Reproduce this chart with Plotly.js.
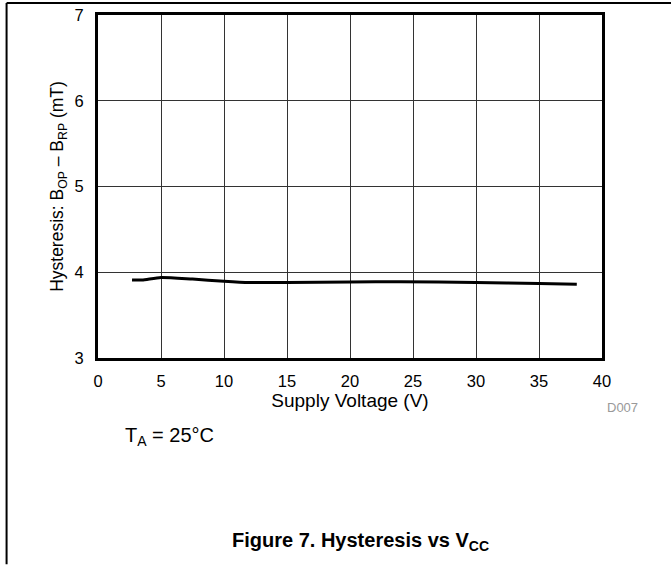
<!DOCTYPE html>
<html>
<head>
<meta charset="utf-8">
<script src="https://cdn.plot.ly/plotly-3.0.1.min.js"></script>
<style>html,body{margin:0;padding:0;background:#fff;}#chart{width:671px;height:565px;}</style>
</head>
<body>
<div id="chart"></div>
<script>
var supplyVoltage = [2.7, 3.5, 5, 7.5, 10, 12, 15, 20, 24, 30, 35, 38];
var hysteresis = [3.91, 3.91, 3.94, 3.92, 3.895, 3.88, 3.88, 3.885, 3.89, 3.88, 3.87, 3.86];
var xTicks = [0, 5, 10, 15, 20, 25, 30, 35, 40];
var yTicks = [3, 4, 5, 6, 7];

var F = 'Liberation Sans, Arial, sans-serif';
var trace = {
  x: supplyVoltage, y: hysteresis, type: 'scatter', mode: 'lines',
  line: {color: '#000', width: 3, shape: 'spline', smoothing: 0.6},
  hoverinfo: 'skip'
};
var layout = {
  width: 671, height: 565,
  margin: {l: 97.5, r: 69, t: 15, b: 206.5},
  paper_bgcolor: '#fff', plot_bgcolor: '#fff',
  showlegend: false,
  font: {family: F, color: '#000'},
  xaxis: {
    range: [0, 40], tickvals: xTicks, ticktext: xTicks.map(String),
    showgrid: true, gridcolor: '#333', gridwidth: 1, zeroline: false,
    showline: true, linecolor: '#000', linewidth: 3, mirror: true,
    ticks: '', ticklen: 0, ticklabelstandoff: 6, tickfont: {size: 16.5, family: F},
    title: {text: 'Supply Voltage (V)', font: {size: 19, family: F}, standoff: 0}
  },
  yaxis: {
    range: [3, 7], tickvals: yTicks, ticktext: yTicks.map(String),
    showgrid: true, gridcolor: '#333', gridwidth: 1, zeroline: false,
    showline: true, linecolor: '#000', linewidth: 3, mirror: true,
    ticks: '', ticklen: 0, ticklabelstandoff: 8, tickfont: {size: 16.5, family: F},
    title: {text: 'Hysteresis: B<sub>OP</sub> – B<sub>RP</sub> (mT)', font: {size: 17.5, family: F}, standoff: 7}
  },
  annotations: [
    {xref: 'paper', yref: 'paper', x: 1.04, y: -0.144, text: 'D007', showarrow: false,
     font: {size: 13, color: '#999', family: F}, xanchor: 'center', yanchor: 'middle'},
    {xref: 'paper', yref: 'paper', x: 0.05, y: -0.2285, text: 'T<sub>A</sub> = 25°C', showarrow: false,
     font: {size: 20, family: F}, xanchor: 'left', yanchor: 'middle'},
    {xref: 'paper', yref: 'paper', x: 0.52, y: -0.534, text: '<b>Figure 7. Hysteresis vs V<sub>CC</sub></b>', showarrow: false,
     font: {size: 20, family: F}, xanchor: 'center', yanchor: 'middle'}
  ],
  shapes: [
    {type: 'line', xref: 'paper', yref: 'paper', x0: -0.1814, x1: 1.137, y0: 1.035, y1: 1.035,
     line: {color: '#000', width: 2}},
    {type: 'line', xref: 'paper', yref: 'paper', x0: -0.1814, x1: -0.1814, y0: 1.035, y1: -0.601,
     line: {color: '#000', width: 2}}
  ]
};
Plotly.newPlot('chart', [trace], layout, {displayModeBar: false, staticPlot: true});
</script>
</body>
</html>
